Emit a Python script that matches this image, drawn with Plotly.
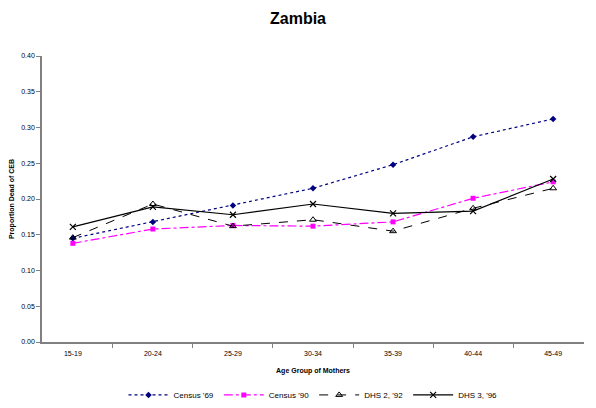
import plotly.graph_objects as go

ages = ["15-19", "20-24", "25-29", "30-34", "35-39", "40-44", "45-49"]
census69 = [0.145, 0.168, 0.191, 0.215, 0.248, 0.287, 0.312]
census90 = [0.138, 0.158, 0.163, 0.162, 0.168, 0.201, 0.224]
dhs92 = [0.146, 0.193, 0.162, 0.171, 0.155, 0.187, 0.215]
dhs96 = [0.161, 0.189, 0.178, 0.193, 0.180, 0.183, 0.228]
yticks = [0.0, 0.05, 0.10, 0.15, 0.20, 0.25, 0.30, 0.35, 0.40]

fig = go.Figure()
fig.add_trace(go.Scatter(x=ages, y=census69, name="Census '69", mode="lines+markers",
                         line=dict(color="#000080", width=1.2, dash="dot"),
                         marker=dict(symbol="diamond", size=5, color="#000080")))
fig.add_trace(go.Scatter(x=ages, y=census90, name="Census '90", mode="lines+markers",
                         line=dict(color="#FF00FF", width=1.2, dash="dashdot"),
                         marker=dict(symbol="square", size=5, color="#FF00FF")))
fig.add_trace(go.Scatter(x=ages, y=dhs92, name="DHS 2, '92", mode="lines+markers",
                         line=dict(color="black", width=1, dash="dash"),
                         marker=dict(symbol="triangle-up-open", size=6, color="black")))
fig.add_trace(go.Scatter(x=ages, y=dhs96, name="DHS 3, '96", mode="lines+markers",
                         line=dict(color="black", width=1.2),
                         marker=dict(symbol="x-thin-open", size=6, color="black",
                                     line=dict(width=1.2, color="black"))))

fig.update_layout(
    width=596, height=408,
    margin=dict(l=42, r=12, t=56, b=66, autoexpand=False),
    paper_bgcolor="white", plot_bgcolor="white",
    font=dict(family="Liberation Sans, Arial, sans-serif", size=7, color="black"),
    title=dict(text="<b>Zambia</b>", x=0.5, xanchor="center", y=0.956, yanchor="middle",
               font=dict(size=16, color="black")),
    showlegend=True,
    legend=dict(orientation="h", x=0.5, xanchor="center", y=-0.185, yanchor="middle",
                font=dict(size=8), itemwidth=40, tracegroupgap=0),
    xaxis=dict(type="category", showline=True, linecolor="#808080", linewidth=1.5,
               ticks="outside", tickson="boundaries", ticklen=4, tickcolor="#808080",
               ticklabelstandoff=4,
               showgrid=False, zeroline=False, automargin=False,
               title=dict(text="<b>Age Group of Mothers</b>", font=dict(size=7), standoff=12)),
    yaxis=dict(range=[0, 0.40], tickvals=yticks, tickformat=".2f", showline=True,
               linecolor="#808080", linewidth=1.5, ticks="outside", ticklen=4,
               tickcolor="#808080", showgrid=False, zeroline=False, automargin=False,
               title=dict(text="<b>Proportion Dead of CEB</b>", font=dict(size=7), standoff=6)),
)

fig.write_html("out.html", config={"displayModeBar": False},
               post_script="document.body.style.margin='0px';")
